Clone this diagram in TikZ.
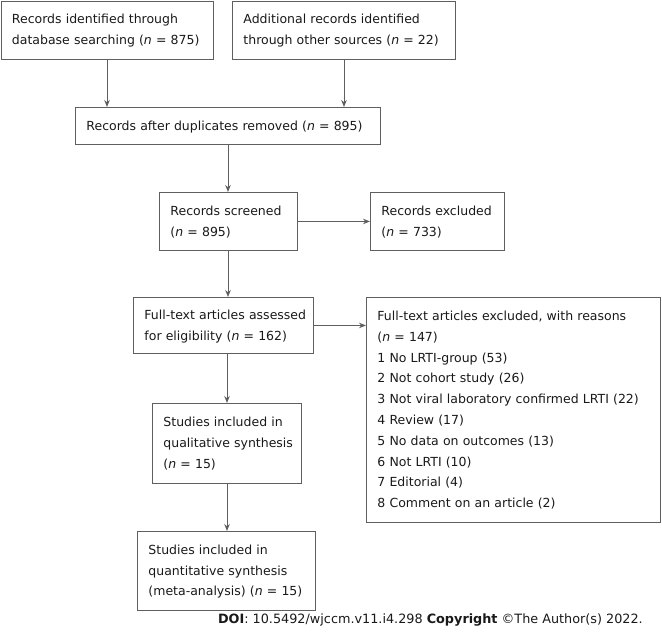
\documentclass[tikz,border=0pt]{standalone}
\usepackage{fontspec}
\setmainfont{DejaVu Sans}
\usetikzlibrary{arrows.meta}
\definecolor{edge}{RGB}{95,95,95}
\definecolor{ink}{RGB}{25,25,25}
\tikzset{
  box/.style={draw=edge, line width=0.9pt, rectangle, align=left, inner xsep=11pt, inner ysep=0pt,
    font=\fontsize{12.5}{20.8}\selectfont, text=ink, anchor=north west},
  conn/.style={draw=edge, line width=0.9pt, -{Stealth[length=7pt,width=5.5pt]}}
}
\newcommand{\bx}[6]{% name, x, y, w, h, text
  \node[box, minimum width=#4pt, minimum height=#5pt, text width=#4pt-22pt] (#1) at (#2pt,-#3pt)
  {\begin{tabular}{@{}l@{}}#6\end{tabular}};}
\begin{document}
\begin{tikzpicture}[x=1pt,y=1pt]
\useasboundingbox (0,0) rectangle (662,-635);
\bx{a}{0.5}{0.5}{212.5}{58}{Records identified through\\database searching (\textit{n} = 875)}
\bx{b}{232}{0.5}{223}{58}{Additional records identified\\through other sources (\textit{n} = 22)}
\bx{c}{75}{107}{305}{37}{Records after duplicates removed (\textit{n} = 895)}
\bx{d}{159}{192}{138}{58}{Records screened\\(\textit{n} = 895)}
\bx{e}{370}{192}{134}{58}{Records excluded\\(\textit{n} = 733)}
\bx{f}{133}{297}{180}{56}{Full-text articles assessed\\for eligibility (\textit{n} = 162)}
\bx{g}{366}{297}{294}{225}{Full-text articles excluded, with reasons\\(\textit{n} = 147)\\1 No LRTI-group (53)\\2 Not cohort study (26)\\3 Not viral laboratory confirmed LRTI (22)\\4 Review (17)\\5 No data on outcomes (13)\\6 Not LRTI (10)\\7 Editorial (4)\\8 Comment on an article (2)}
\bx{h}{152}{403}{149}{80}{Studies included in\\qualitative synthesis\\(\textit{n} = 15)}
\bx{i}{137}{531}{178}{79}{Studies included in\\quantitative synthesis\\(meta-analysis) (\textit{n} = 15)}
\draw[conn] (a.south -| 107,0) -- (c.north -| 107,0);
\draw[conn] (b.south -| 344,0) -- (c.north -| 344,0);
\draw[conn] (c.south -| 228,0) -- (d.north -| 228,0);
\draw[conn] (d.east) -- (e.west);
\draw[conn] (d.south -| 228,0) -- (f.north -| 228,0);
\draw[conn] (f.east) -- (g.west |- f.east);
\draw[conn] (f.south -| 227,0) -- (h.north -| 227,0);
\draw[conn] (h.south -| 227,0) -- (i.north -| 227,0);
\node[anchor=east, inner sep=0pt, text=ink, font=\fontsize{12.8}{15}\selectfont] (doi) at (643,-620) {\textbf{DOI}: 10.5492/wjccm.v11.i4.298 \textbf{Copyright} ©The Author(s) 2022.};
\end{tikzpicture}
\end{document}
